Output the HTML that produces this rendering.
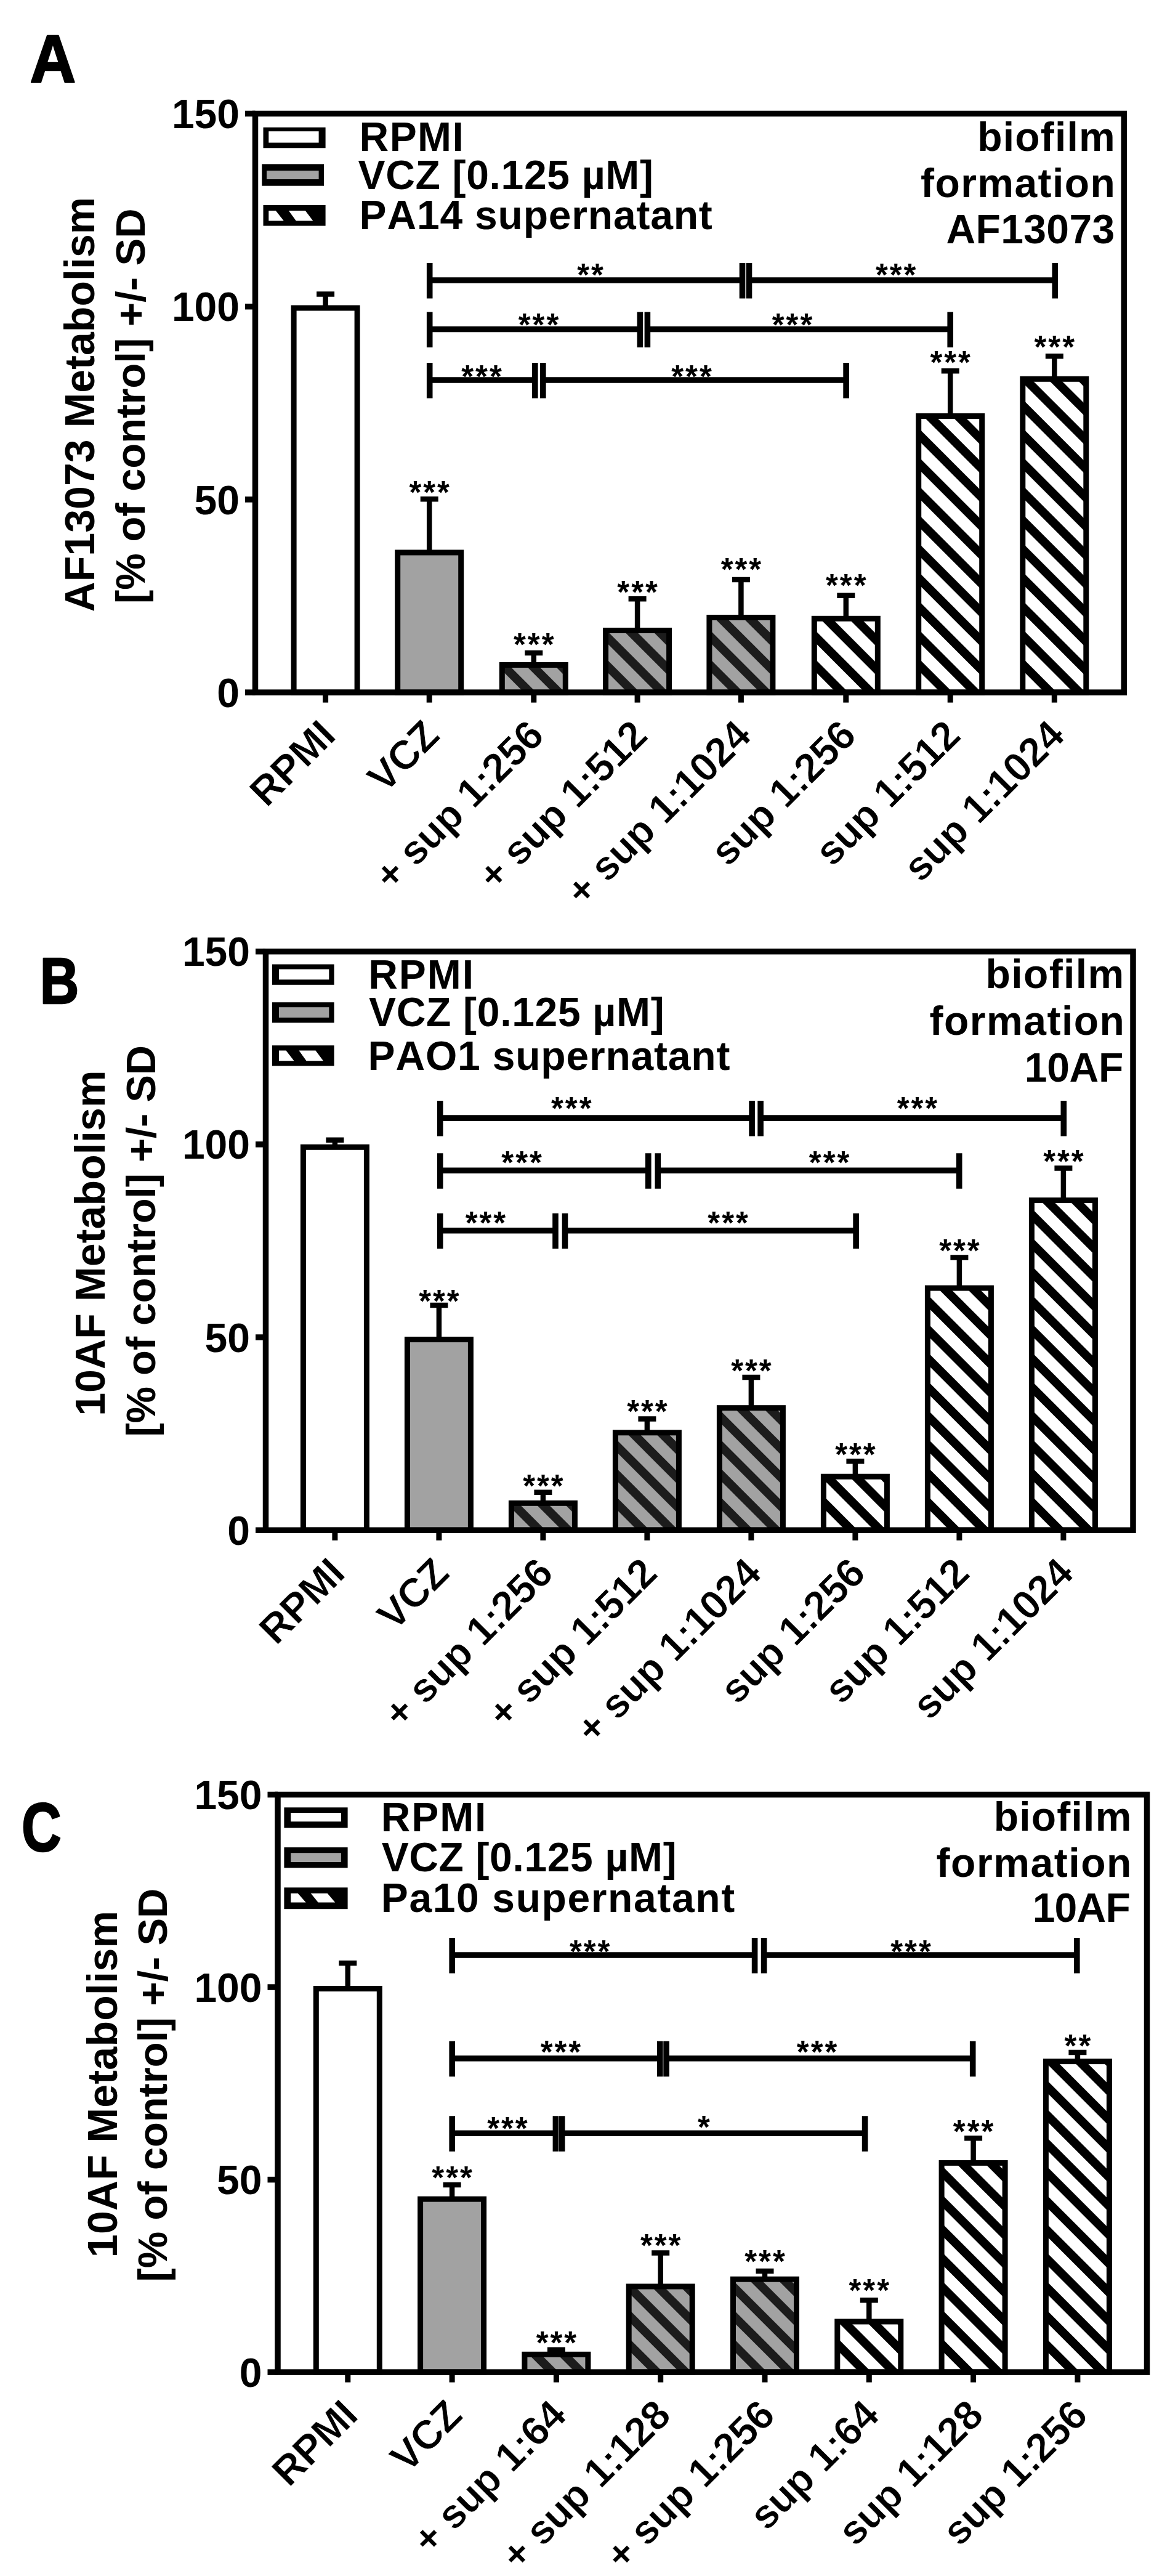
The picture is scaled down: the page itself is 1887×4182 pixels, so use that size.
<!DOCTYPE html>
<html><head><meta charset="utf-8"><title>Figure</title>
<style>html,body{margin:0;padding:0;background:#fff}svg{display:block}text{font-family:"Liberation Sans",sans-serif;font-weight:bold;fill:#000;font-kerning:none;font-variant-ligatures:none}.xl{stroke:#fff;stroke-width:0.8px}</style>
</head><body>
<svg width="1887" height="4182" viewBox="0 0 1887 4182">
<rect width="1887" height="4182" fill="#fff"/>
<g>
<path d="M528.6 500V475M514.1 477.4H543.1" stroke="#000" stroke-width="8.5" fill="none"/>
<rect x="477.1" y="500" width="103" height="624.1" fill="#fff"/>
<rect x="477.1" y="500" width="103" height="624.1" fill="none" stroke="#000" stroke-width="9"/>
<path d="M528.6 1124.1V1140.6" stroke="#000" stroke-width="9" fill="none"/>
<text x="548.1" y="1197.6" font-size="66" class="xl" text-anchor="end" transform="rotate(-45 548.1 1197.6)" letter-spacing="-0.6">RPMI</text>
<path d="M697.2 897V807.8M682.7 810.2H711.7" stroke="#000" stroke-width="8.5" fill="none"/>
<rect x="645.7" y="897" width="103" height="227.1" fill="#a2a2a2"/>
<rect x="645.7" y="897" width="103" height="227.1" fill="none" stroke="#000" stroke-width="9"/>
<path d="M697.2 1124.1V1140.6" stroke="#000" stroke-width="9" fill="none"/>
<text x="698.7" y="816.7" font-size="51" text-anchor="middle" letter-spacing="3">***</text>
<text x="716.7" y="1197.6" font-size="66" class="xl" text-anchor="end" transform="rotate(-45 716.7 1197.6)" letter-spacing="-0.6">VCZ</text>
<path d="M866.8 1079.5V1057.5M852.3 1059.9H881.3" stroke="#000" stroke-width="8.5" fill="none"/>
<rect x="815.3" y="1079.5" width="103" height="44.6" fill="#a2a2a2"/>
<clipPath id="c1"><rect x="818.8" y="1083" width="96" height="37.6"/></clipPath><g clip-path="url(#c1)" fill="#1c1c1c"><polygon points="758,1078 778,1078 825.6,1125.6 805.6,1125.6"/><polygon points="804.7,1078 824.7,1078 872.3,1125.6 852.3,1125.6"/><polygon points="851.4,1078 871.4,1078 919,1125.6 899,1125.6"/><polygon points="898.1,1078 918.1,1078 965.7,1125.6 945.7,1125.6"/></g>
<rect x="815.3" y="1079.5" width="103" height="44.6" fill="none" stroke="#000" stroke-width="9"/>
<path d="M866.8 1124.1V1140.6" stroke="#000" stroke-width="9" fill="none"/>
<text x="868.3" y="1063.7" font-size="51" text-anchor="middle" letter-spacing="3">***</text>
<text x="886.3" y="1197.6" font-size="66" class="xl" text-anchor="end" transform="rotate(-45 886.3 1197.6)" letter-spacing="-0.6">+ sup 1:256</text>
<path d="M1035.1 1023.5V969.8M1020.6 972.2H1049.6" stroke="#000" stroke-width="8.5" fill="none"/>
<rect x="983.6" y="1023.5" width="103" height="100.6" fill="#a2a2a2"/>
<clipPath id="c2"><rect x="987.1" y="1027" width="96" height="93.6"/></clipPath><g clip-path="url(#c2)" fill="#1c1c1c"><polygon points="870.3,1022 890.3,1022 993.9,1125.6 973.9,1125.6"/><polygon points="917,1022 937,1022 1040.6,1125.6 1020.6,1125.6"/><polygon points="963.7,1022 983.7,1022 1087.3,1125.6 1067.3,1125.6"/><polygon points="1010.4,1022 1030.4,1022 1134,1125.6 1114,1125.6"/><polygon points="1057.1,1022 1077.1,1022 1180.7,1125.6 1160.7,1125.6"/></g>
<rect x="983.6" y="1023.5" width="103" height="100.6" fill="none" stroke="#000" stroke-width="9"/>
<path d="M1035.1 1124.1V1140.6" stroke="#000" stroke-width="9" fill="none"/>
<text x="1036.6" y="979.4" font-size="51" text-anchor="middle" letter-spacing="3">***</text>
<text x="1054.6" y="1197.6" font-size="66" class="xl" text-anchor="end" transform="rotate(-45 1054.6 1197.6)" letter-spacing="-0.6">+ sup 1:512</text>
<path d="M1203.4 1002.5V938.6M1188.9 941H1217.9" stroke="#000" stroke-width="8.5" fill="none"/>
<rect x="1151.9" y="1002.5" width="103" height="121.6" fill="#a2a2a2"/>
<clipPath id="c3"><rect x="1155.4" y="1006" width="96" height="114.6"/></clipPath><g clip-path="url(#c3)" fill="#1c1c1c"><polygon points="1017.6,1001 1037.6,1001 1162.2,1125.6 1142.2,1125.6"/><polygon points="1064.3,1001 1084.3,1001 1208.9,1125.6 1188.9,1125.6"/><polygon points="1111,1001 1131,1001 1255.6,1125.6 1235.6,1125.6"/><polygon points="1157.7,1001 1177.7,1001 1302.3,1125.6 1282.3,1125.6"/><polygon points="1204.4,1001 1224.4,1001 1349,1125.6 1329,1125.6"/></g>
<rect x="1151.9" y="1002.5" width="103" height="121.6" fill="none" stroke="#000" stroke-width="9"/>
<path d="M1203.4 1124.1V1140.6" stroke="#000" stroke-width="9" fill="none"/>
<text x="1204.9" y="942.2" font-size="51" text-anchor="middle" letter-spacing="3">***</text>
<text x="1222.9" y="1197.6" font-size="66" class="xl" text-anchor="end" transform="rotate(-45 1222.9 1197.6)" letter-spacing="-0.6">+ sup 1:1024</text>
<path d="M1373.8 1004.3V964.3M1359.3 966.7H1388.3" stroke="#000" stroke-width="8.5" fill="none"/>
<rect x="1322.3" y="1004.3" width="103" height="119.8" fill="#fff"/>
<clipPath id="c4"><rect x="1325.8" y="1007.8" width="96" height="112.8"/></clipPath><g clip-path="url(#c4)" fill="#000"><polygon points="1189.8,1002.8 1209.8,1002.8 1332.6,1125.6 1312.6,1125.6"/><polygon points="1236.5,1002.8 1256.5,1002.8 1379.3,1125.6 1359.3,1125.6"/><polygon points="1283.2,1002.8 1303.2,1002.8 1426,1125.6 1406,1125.6"/><polygon points="1329.9,1002.8 1349.9,1002.8 1472.7,1125.6 1452.7,1125.6"/><polygon points="1376.6,1002.8 1396.6,1002.8 1519.4,1125.6 1499.4,1125.6"/></g>
<rect x="1322.3" y="1004.3" width="103" height="119.8" fill="none" stroke="#000" stroke-width="9"/>
<path d="M1373.8 1124.1V1140.6" stroke="#000" stroke-width="9" fill="none"/>
<text x="1375.3" y="967.9" font-size="51" text-anchor="middle" letter-spacing="3">***</text>
<text x="1393.3" y="1197.6" font-size="66" class="xl" text-anchor="end" transform="rotate(-45 1393.3 1197.6)" letter-spacing="-0.6">sup 1:256</text>
<path d="M1543.2 675.5V599.9M1528.7 602.3H1557.7" stroke="#000" stroke-width="8.5" fill="none"/>
<rect x="1491.7" y="675.5" width="103" height="448.6" fill="#fff"/>
<clipPath id="c5"><rect x="1495.2" y="679" width="96" height="441.6"/></clipPath><g clip-path="url(#c5)" fill="#000"><polygon points="1030.4,674 1050.4,674 1502,1125.6 1482,1125.6"/><polygon points="1077.1,674 1097.1,674 1548.7,1125.6 1528.7,1125.6"/><polygon points="1123.8,674 1143.8,674 1595.4,1125.6 1575.4,1125.6"/><polygon points="1170.5,674 1190.5,674 1642.1,1125.6 1622.1,1125.6"/><polygon points="1217.2,674 1237.2,674 1688.8,1125.6 1668.8,1125.6"/><polygon points="1263.9,674 1283.9,674 1735.5,1125.6 1715.5,1125.6"/><polygon points="1310.6,674 1330.6,674 1782.2,1125.6 1762.2,1125.6"/><polygon points="1357.3,674 1377.3,674 1828.9,1125.6 1808.9,1125.6"/><polygon points="1404,674 1424,674 1875.6,1125.6 1855.6,1125.6"/><polygon points="1450.7,674 1470.7,674 1922.3,1125.6 1902.3,1125.6"/><polygon points="1497.4,674 1517.4,674 1969,1125.6 1949,1125.6"/><polygon points="1544.1,674 1564.1,674 2015.7,1125.6 1995.7,1125.6"/></g>
<rect x="1491.7" y="675.5" width="103" height="448.6" fill="none" stroke="#000" stroke-width="9"/>
<path d="M1543.2 1124.1V1140.6" stroke="#000" stroke-width="9" fill="none"/>
<text x="1544.7" y="606.4" font-size="51" text-anchor="middle" letter-spacing="3">***</text>
<text x="1562.7" y="1197.6" font-size="66" class="xl" text-anchor="end" transform="rotate(-45 1562.7 1197.6)" letter-spacing="-0.6">sup 1:512</text>
<path d="M1712.3 615.3V575.8M1697.8 578.2H1726.8" stroke="#000" stroke-width="8.5" fill="none"/>
<rect x="1660.8" y="615.3" width="103" height="508.8" fill="#fff"/>
<clipPath id="c6"><rect x="1664.3" y="618.8" width="96" height="501.8"/></clipPath><g clip-path="url(#c6)" fill="#000"><polygon points="1139.3,613.8 1159.3,613.8 1671.1,1125.6 1651.1,1125.6"/><polygon points="1186,613.8 1206,613.8 1717.8,1125.6 1697.8,1125.6"/><polygon points="1232.7,613.8 1252.7,613.8 1764.5,1125.6 1744.5,1125.6"/><polygon points="1279.4,613.8 1299.4,613.8 1811.2,1125.6 1791.2,1125.6"/><polygon points="1326.1,613.8 1346.1,613.8 1857.9,1125.6 1837.9,1125.6"/><polygon points="1372.8,613.8 1392.8,613.8 1904.6,1125.6 1884.6,1125.6"/><polygon points="1419.5,613.8 1439.5,613.8 1951.3,1125.6 1931.3,1125.6"/><polygon points="1466.2,613.8 1486.2,613.8 1998,1125.6 1978,1125.6"/><polygon points="1512.9,613.8 1532.9,613.8 2044.7,1125.6 2024.7,1125.6"/><polygon points="1559.6,613.8 1579.6,613.8 2091.4,1125.6 2071.4,1125.6"/><polygon points="1606.3,613.8 1626.3,613.8 2138.1,1125.6 2118.1,1125.6"/><polygon points="1653,613.8 1673,613.8 2184.8,1125.6 2164.8,1125.6"/><polygon points="1699.7,613.8 1719.7,613.8 2231.5,1125.6 2211.5,1125.6"/><polygon points="1746.4,613.8 1766.4,613.8 2278.2,1125.6 2258.2,1125.6"/></g>
<rect x="1660.8" y="615.3" width="103" height="508.8" fill="none" stroke="#000" stroke-width="9"/>
<path d="M1712.3 1124.1V1140.6" stroke="#000" stroke-width="9" fill="none"/>
<text x="1713.8" y="580.5" font-size="51" text-anchor="middle" letter-spacing="3">***</text>
<text x="1731.8" y="1197.6" font-size="66" class="xl" text-anchor="end" transform="rotate(-45 1731.8 1197.6)" letter-spacing="-0.6">sup 1:1024</text>
<rect x="414.5" y="184.5" width="1410.8" height="939.6" fill="none" stroke="#000" stroke-width="9.5"/>
<path d="M398 184.5H414.5" stroke="#000" stroke-width="9.5" fill="none"/>
<text x="389" y="208.1" font-size="66" text-anchor="end">150</text>
<path d="M398 497.7H414.5" stroke="#000" stroke-width="9.5" fill="none"/>
<text x="389" y="521.3" font-size="66" text-anchor="end">100</text>
<path d="M398 810.9H414.5" stroke="#000" stroke-width="9.5" fill="none"/>
<text x="389" y="834.5" font-size="66" text-anchor="end">50</text>
<path d="M398 1124.1H414.5" stroke="#000" stroke-width="9.5" fill="none"/>
<text x="389" y="1147.7" font-size="66" text-anchor="end">0</text>
<rect x="427.5" y="206.8" width="101.1" height="33.5" fill="#000"/>
<rect x="436.3" y="213.2" width="81.3" height="18.4" fill="#fff"/>
<rect x="425.3" y="266.4" width="100.7" height="35.3" fill="#000"/>
<rect x="433" y="277" width="84.6" height="14" fill="#a2a2a2"/>
<rect x="427.5" y="333" width="101.1" height="33.6" fill="#000"/>
<path d="M436.3 342h11.5l13 16.5h-24.5zM468.8 342h27l12.5 16.5h-27.5z" fill="#fff"/>
<text x="583.51" y="245.1" font-size="66" letter-spacing="1.47">RPMI</text>
<text x="581.57" y="306.5" font-size="66" letter-spacing="0.66">VCZ [0.125 µM]</text>
<text x="583.61" y="372.4" font-size="66" letter-spacing="0.8">PA14 supernatant</text>
<text x="1587.18" y="245" font-size="66" letter-spacing="1.22">biofilm</text>
<text x="1494.98" y="320" font-size="66" letter-spacing="1.45">formation</text>
<text x="1536.58" y="394.7" font-size="66" letter-spacing="0.35">AF13073</text>
<path d="M697.7 455H1205.5M697.7 427V484.5M1205.5 427V484.5" stroke="#000" stroke-width="9.6" fill="none"/>
<text x="960" y="464.1" font-size="51" text-anchor="middle" letter-spacing="3">**</text>
<path d="M1216.5 455H1713.3M1216.5 427V484.5M1713.3 427V484.5" stroke="#000" stroke-width="9.6" fill="none"/>
<text x="1456.2" y="463.7" font-size="51" text-anchor="middle" letter-spacing="3">***</text>
<path d="M697.7 534.5H1039.4M697.7 506.5V564M1039.4 506.5V564" stroke="#000" stroke-width="9.6" fill="none"/>
<text x="876" y="545.2" font-size="51" text-anchor="middle" letter-spacing="3">***</text>
<path d="M1051.4 534.5H1543.2M1051.4 506.5V564M1543.2 506.5V564" stroke="#000" stroke-width="9.6" fill="none"/>
<text x="1288" y="545.2" font-size="51" text-anchor="middle" letter-spacing="3">***</text>
<path d="M697.7 617H868.8M697.7 589V646.5M868.8 589V646.5" stroke="#000" stroke-width="9.6" fill="none"/>
<text x="783.5" y="629.3" font-size="51" text-anchor="middle" letter-spacing="3">***</text>
<path d="M881.8 617H1374.1M881.8 589V646.5M1374.1 589V646.5" stroke="#000" stroke-width="9.6" fill="none"/>
<text x="1124.5" y="629.3" font-size="51" text-anchor="middle" letter-spacing="3">***</text>
<text x="153.5" y="993.47" font-size="68" transform="rotate(-90 153.5 993.47)" letter-spacing="0.06">AF13073 Metabolism</text>
<text x="235" y="980.05" font-size="67" transform="rotate(-90 235 980.05)" letter-spacing="-0.02">[% of control] +/- SD</text>
<text x="0" y="0" font-size="109" stroke="#000" stroke-width="2.5" stroke-linejoin="round" transform="translate(48.5 133.4) scale(0.95 1)">A</text>
</g>
<g>
<path d="M543.9 1862.3V1848.4M529.4 1850.8H558.4" stroke="#000" stroke-width="8.5" fill="none"/>
<rect x="492.4" y="1862.3" width="103" height="621.9" fill="#fff"/>
<rect x="492.4" y="1862.3" width="103" height="621.9" fill="none" stroke="#000" stroke-width="9"/>
<path d="M543.9 2484.2V2500.7" stroke="#000" stroke-width="9" fill="none"/>
<text x="563.4" y="2557.7" font-size="66" class="xl" text-anchor="end" transform="rotate(-45 563.4 2557.7)" letter-spacing="-0.6">RPMI</text>
<path d="M712.9 2174.6V2116.7M698.4 2119.1H727.4" stroke="#000" stroke-width="8.5" fill="none"/>
<rect x="661.4" y="2174.6" width="103" height="309.6" fill="#a2a2a2"/>
<rect x="661.4" y="2174.6" width="103" height="309.6" fill="none" stroke="#000" stroke-width="9"/>
<path d="M712.9 2484.2V2500.7" stroke="#000" stroke-width="9" fill="none"/>
<text x="714.4" y="2129.7" font-size="51" text-anchor="middle" letter-spacing="3">***</text>
<text x="732.4" y="2557.7" font-size="66" class="xl" text-anchor="end" transform="rotate(-45 732.4 2557.7)" letter-spacing="-0.6">VCZ</text>
<path d="M881.9 2440.3V2420.3M867.4 2422.7H896.4" stroke="#000" stroke-width="8.5" fill="none"/>
<rect x="830.4" y="2440.3" width="103" height="43.9" fill="#a2a2a2"/>
<clipPath id="c7"><rect x="833.9" y="2443.8" width="96" height="36.9"/></clipPath><g clip-path="url(#c7)" fill="#1c1c1c"><polygon points="773.8,2438.8 793.8,2438.8 840.7,2485.7 820.7,2485.7"/><polygon points="820.5,2438.8 840.5,2438.8 887.4,2485.7 867.4,2485.7"/><polygon points="867.2,2438.8 887.2,2438.8 934.1,2485.7 914.1,2485.7"/><polygon points="913.9,2438.8 933.9,2438.8 980.8,2485.7 960.8,2485.7"/></g>
<rect x="830.4" y="2440.3" width="103" height="43.9" fill="none" stroke="#000" stroke-width="9"/>
<path d="M881.9 2484.2V2500.7" stroke="#000" stroke-width="9" fill="none"/>
<text x="883.4" y="2429.7" font-size="51" text-anchor="middle" letter-spacing="3">***</text>
<text x="901.4" y="2557.7" font-size="66" class="xl" text-anchor="end" transform="rotate(-45 901.4 2557.7)" letter-spacing="-0.6">+ sup 1:256</text>
<path d="M1050.9 2325.8V2301M1036.4 2303.4H1065.4" stroke="#000" stroke-width="8.5" fill="none"/>
<rect x="999.4" y="2325.8" width="103" height="158.4" fill="#a2a2a2"/>
<clipPath id="c8"><rect x="1002.9" y="2329.3" width="96" height="151.4"/></clipPath><g clip-path="url(#c8)" fill="#1c1c1c"><polygon points="828.3,2324.3 848.3,2324.3 1009.7,2485.7 989.7,2485.7"/><polygon points="875,2324.3 895,2324.3 1056.4,2485.7 1036.4,2485.7"/><polygon points="921.7,2324.3 941.7,2324.3 1103.1,2485.7 1083.1,2485.7"/><polygon points="968.4,2324.3 988.4,2324.3 1149.8,2485.7 1129.8,2485.7"/><polygon points="1015.1,2324.3 1035.1,2324.3 1196.5,2485.7 1176.5,2485.7"/><polygon points="1061.8,2324.3 1081.8,2324.3 1243.2,2485.7 1223.2,2485.7"/></g>
<rect x="999.4" y="2325.8" width="103" height="158.4" fill="none" stroke="#000" stroke-width="9"/>
<path d="M1050.9 2484.2V2500.7" stroke="#000" stroke-width="9" fill="none"/>
<text x="1052.4" y="2309.4" font-size="51" text-anchor="middle" letter-spacing="3">***</text>
<text x="1070.4" y="2557.7" font-size="66" class="xl" text-anchor="end" transform="rotate(-45 1070.4 2557.7)" letter-spacing="-0.6">+ sup 1:512</text>
<path d="M1219.9 2285.7V2233.6M1205.4 2236H1234.4" stroke="#000" stroke-width="8.5" fill="none"/>
<rect x="1168.4" y="2285.7" width="103" height="198.5" fill="#a2a2a2"/>
<clipPath id="c9"><rect x="1171.9" y="2289.2" width="96" height="191.5"/></clipPath><g clip-path="url(#c9)" fill="#1c1c1c"><polygon points="957.2,2284.2 977.2,2284.2 1178.7,2485.7 1158.7,2485.7"/><polygon points="1003.9,2284.2 1023.9,2284.2 1225.4,2485.7 1205.4,2485.7"/><polygon points="1050.6,2284.2 1070.6,2284.2 1272.1,2485.7 1252.1,2485.7"/><polygon points="1097.3,2284.2 1117.3,2284.2 1318.8,2485.7 1298.8,2485.7"/><polygon points="1144,2284.2 1164,2284.2 1365.5,2485.7 1345.5,2485.7"/><polygon points="1190.7,2284.2 1210.7,2284.2 1412.2,2485.7 1392.2,2485.7"/><polygon points="1237.4,2284.2 1257.4,2284.2 1458.9,2485.7 1438.9,2485.7"/></g>
<rect x="1168.4" y="2285.7" width="103" height="198.5" fill="none" stroke="#000" stroke-width="9"/>
<path d="M1219.9 2484.2V2500.7" stroke="#000" stroke-width="9" fill="none"/>
<text x="1221.4" y="2242.5" font-size="51" text-anchor="middle" letter-spacing="3">***</text>
<text x="1239.4" y="2557.7" font-size="66" class="xl" text-anchor="end" transform="rotate(-45 1239.4 2557.7)" letter-spacing="-0.6">+ sup 1:1024</text>
<path d="M1388.9 2397.2V2369.9M1374.4 2372.3H1403.4" stroke="#000" stroke-width="8.5" fill="none"/>
<rect x="1337.4" y="2397.2" width="103" height="87" fill="#fff"/>
<clipPath id="c10"><rect x="1340.9" y="2400.7" width="96" height="80"/></clipPath><g clip-path="url(#c10)" fill="#000"><polygon points="1237.7,2395.7 1257.7,2395.7 1347.7,2485.7 1327.7,2485.7"/><polygon points="1284.4,2395.7 1304.4,2395.7 1394.4,2485.7 1374.4,2485.7"/><polygon points="1331.1,2395.7 1351.1,2395.7 1441.1,2485.7 1421.1,2485.7"/><polygon points="1377.8,2395.7 1397.8,2395.7 1487.8,2485.7 1467.8,2485.7"/><polygon points="1424.5,2395.7 1444.5,2395.7 1534.5,2485.7 1514.5,2485.7"/></g>
<rect x="1337.4" y="2397.2" width="103" height="87" fill="none" stroke="#000" stroke-width="9"/>
<path d="M1388.9 2484.2V2500.7" stroke="#000" stroke-width="9" fill="none"/>
<text x="1390.4" y="2378.8" font-size="51" text-anchor="middle" letter-spacing="3">***</text>
<text x="1408.4" y="2557.7" font-size="66" class="xl" text-anchor="end" transform="rotate(-45 1408.4 2557.7)" letter-spacing="-0.6">sup 1:256</text>
<path d="M1557.9 2091.1V2039M1543.4 2041.4H1572.4" stroke="#000" stroke-width="8.5" fill="none"/>
<rect x="1506.4" y="2091.1" width="103" height="393.1" fill="#fff"/>
<clipPath id="c11"><rect x="1509.9" y="2094.6" width="96" height="386.1"/></clipPath><g clip-path="url(#c11)" fill="#000"><polygon points="1100.6,2089.6 1120.6,2089.6 1516.7,2485.7 1496.7,2485.7"/><polygon points="1147.3,2089.6 1167.3,2089.6 1563.4,2485.7 1543.4,2485.7"/><polygon points="1194,2089.6 1214,2089.6 1610.1,2485.7 1590.1,2485.7"/><polygon points="1240.7,2089.6 1260.7,2089.6 1656.8,2485.7 1636.8,2485.7"/><polygon points="1287.4,2089.6 1307.4,2089.6 1703.5,2485.7 1683.5,2485.7"/><polygon points="1334.1,2089.6 1354.1,2089.6 1750.2,2485.7 1730.2,2485.7"/><polygon points="1380.8,2089.6 1400.8,2089.6 1796.9,2485.7 1776.9,2485.7"/><polygon points="1427.5,2089.6 1447.5,2089.6 1843.6,2485.7 1823.6,2485.7"/><polygon points="1474.2,2089.6 1494.2,2089.6 1890.3,2485.7 1870.3,2485.7"/><polygon points="1520.9,2089.6 1540.9,2089.6 1937,2485.7 1917,2485.7"/><polygon points="1567.6,2089.6 1587.6,2089.6 1983.7,2485.7 1963.7,2485.7"/></g>
<rect x="1506.4" y="2091.1" width="103" height="393.1" fill="none" stroke="#000" stroke-width="9"/>
<path d="M1557.9 2484.2V2500.7" stroke="#000" stroke-width="9" fill="none"/>
<text x="1559.4" y="2047.7" font-size="51" text-anchor="middle" letter-spacing="3">***</text>
<text x="1577.4" y="2557.7" font-size="66" class="xl" text-anchor="end" transform="rotate(-45 1577.4 2557.7)" letter-spacing="-0.6">sup 1:512</text>
<path d="M1726.9 1948.6V1894.2M1712.4 1896.6H1741.4" stroke="#000" stroke-width="8.5" fill="none"/>
<rect x="1675.4" y="1948.6" width="103" height="535.6" fill="#fff"/>
<clipPath id="c12"><rect x="1678.9" y="1952.1" width="96" height="528.6"/></clipPath><g clip-path="url(#c12)" fill="#000"><polygon points="1127.1,1947.1 1147.1,1947.1 1685.7,2485.7 1665.7,2485.7"/><polygon points="1173.8,1947.1 1193.8,1947.1 1732.4,2485.7 1712.4,2485.7"/><polygon points="1220.5,1947.1 1240.5,1947.1 1779.1,2485.7 1759.1,2485.7"/><polygon points="1267.2,1947.1 1287.2,1947.1 1825.8,2485.7 1805.8,2485.7"/><polygon points="1313.9,1947.1 1333.9,1947.1 1872.5,2485.7 1852.5,2485.7"/><polygon points="1360.6,1947.1 1380.6,1947.1 1919.2,2485.7 1899.2,2485.7"/><polygon points="1407.3,1947.1 1427.3,1947.1 1965.9,2485.7 1945.9,2485.7"/><polygon points="1454,1947.1 1474,1947.1 2012.6,2485.7 1992.6,2485.7"/><polygon points="1500.7,1947.1 1520.7,1947.1 2059.3,2485.7 2039.3,2485.7"/><polygon points="1547.4,1947.1 1567.4,1947.1 2106,2485.7 2086,2485.7"/><polygon points="1594.1,1947.1 1614.1,1947.1 2152.7,2485.7 2132.7,2485.7"/><polygon points="1640.8,1947.1 1660.8,1947.1 2199.4,2485.7 2179.4,2485.7"/><polygon points="1687.5,1947.1 1707.5,1947.1 2246.1,2485.7 2226.1,2485.7"/><polygon points="1734.2,1947.1 1754.2,1947.1 2292.8,2485.7 2272.8,2485.7"/></g>
<rect x="1675.4" y="1948.6" width="103" height="535.6" fill="none" stroke="#000" stroke-width="9"/>
<path d="M1726.9 2484.2V2500.7" stroke="#000" stroke-width="9" fill="none"/>
<text x="1728.4" y="1902.9" font-size="51" text-anchor="middle" letter-spacing="3">***</text>
<text x="1746.4" y="2557.7" font-size="66" class="xl" text-anchor="end" transform="rotate(-45 1746.4 2557.7)" letter-spacing="-0.6">sup 1:1024</text>
<rect x="431.5" y="1544.7" width="1408.5" height="939.5" fill="none" stroke="#000" stroke-width="9.5"/>
<path d="M415 1544.7H431.5" stroke="#000" stroke-width="9.5" fill="none"/>
<text x="406" y="1568.3" font-size="66" text-anchor="end">150</text>
<path d="M415 1857.87H431.5" stroke="#000" stroke-width="9.5" fill="none"/>
<text x="406" y="1881.47" font-size="66" text-anchor="end">100</text>
<path d="M415 2171.03H431.5" stroke="#000" stroke-width="9.5" fill="none"/>
<text x="406" y="2194.63" font-size="66" text-anchor="end">50</text>
<path d="M415 2484.2H431.5" stroke="#000" stroke-width="9.5" fill="none"/>
<text x="406" y="2507.8" font-size="66" text-anchor="end">0</text>
<rect x="441.9" y="1565.5" width="100.7" height="33.3" fill="#000"/>
<rect x="453" y="1573.5" width="81.3" height="16.8" fill="#fff"/>
<rect x="441.9" y="1627.2" width="100.7" height="33.2" fill="#000"/>
<rect x="453" y="1635.2" width="81.3" height="16.8" fill="#a2a2a2"/>
<rect x="441.9" y="1697.2" width="100.7" height="33.3" fill="#000"/>
<path d="M453 1705.5h11.5l13 16.8h-24.5zM485.5 1705.5h27l12.5 16.8h-27.5z" fill="#fff"/>
<text x="598.31" y="1604.5" font-size="66" letter-spacing="1.9">RPMI</text>
<text x="598.97" y="1666" font-size="66" letter-spacing="0.69">VCZ [0.125 µM]</text>
<text x="597.61" y="1736.7" font-size="66" letter-spacing="0.8">PAO1 supernatant</text>
<text x="1600.58" y="1604" font-size="66" letter-spacing="1.37">biofilm</text>
<text x="1509.48" y="1679.7" font-size="66" letter-spacing="1.51">formation</text>
<text x="1663.78" y="1755.5" font-size="66" letter-spacing="-0.31">10AF</text>
<path d="M714.7 1815.1H1221.1M714.7 1787.1V1844.6M1221.1 1787.1V1844.6" stroke="#000" stroke-width="9.6" fill="none"/>
<text x="929.3" y="1817" font-size="51" text-anchor="middle" letter-spacing="3">***</text>
<path d="M1235.1 1815.1H1727.3M1235.1 1787.1V1844.6M1727.3 1787.1V1844.6" stroke="#000" stroke-width="9.6" fill="none"/>
<text x="1490.9" y="1817" font-size="51" text-anchor="middle" letter-spacing="3">***</text>
<path d="M714.7 1900.2H1052.8M714.7 1872.2V1929.7M1052.8 1872.2V1929.7" stroke="#000" stroke-width="9.6" fill="none"/>
<text x="848.6" y="1904.7" font-size="51" text-anchor="middle" letter-spacing="3">***</text>
<path d="M1068.3 1900.2H1557.7M1068.3 1872.2V1929.7M1557.7 1872.2V1929.7" stroke="#000" stroke-width="9.6" fill="none"/>
<text x="1348.1" y="1904.7" font-size="51" text-anchor="middle" letter-spacing="3">***</text>
<path d="M714.7 1997.7H902M714.7 1969.7V2027.2M902 1969.7V2027.2" stroke="#000" stroke-width="9.6" fill="none"/>
<text x="789.9" y="2002.9" font-size="51" text-anchor="middle" letter-spacing="3">***</text>
<path d="M917.5 1997.7H1390.1M917.5 1969.7V2027.2M1390.1 1969.7V2027.2" stroke="#000" stroke-width="9.6" fill="none"/>
<text x="1183.6" y="2002.9" font-size="51" text-anchor="middle" letter-spacing="3">***</text>
<text x="170.5" y="2298.85" font-size="68" transform="rotate(-90 170.5 2298.85)" letter-spacing="0.14">10AF Metabolism</text>
<text x="252" y="2332.45" font-size="67" transform="rotate(-90 252 2332.45)" letter-spacing="-0.33">[% of control] +/- SD</text>
<text x="0" y="0" font-size="106" stroke="#000" stroke-width="2.5" stroke-linejoin="round" transform="translate(64.8 1629) scale(0.83 1)">B</text>
</g>
<g>
<path d="M564.8 3228.5V3184.5M550.3 3186.9H579.3" stroke="#000" stroke-width="8.5" fill="none"/>
<rect x="513.3" y="3228.5" width="103" height="622.6" fill="#fff"/>
<rect x="513.3" y="3228.5" width="103" height="622.6" fill="none" stroke="#000" stroke-width="9"/>
<path d="M564.8 3851.1V3867.6" stroke="#000" stroke-width="9" fill="none"/>
<text x="584.3" y="3924.6" font-size="66" class="xl" text-anchor="end" transform="rotate(-45 584.3 3924.6)" letter-spacing="-0.6">RPMI</text>
<path d="M734.1 3570.1V3544.7M719.6 3547.1H748.6" stroke="#000" stroke-width="8.5" fill="none"/>
<rect x="682.6" y="3570.1" width="103" height="281" fill="#a2a2a2"/>
<rect x="682.6" y="3570.1" width="103" height="281" fill="none" stroke="#000" stroke-width="9"/>
<path d="M734.1 3851.1V3867.6" stroke="#000" stroke-width="9" fill="none"/>
<text x="735.6" y="3553" font-size="51" text-anchor="middle" letter-spacing="3">***</text>
<text x="753.6" y="3924.6" font-size="66" class="xl" text-anchor="end" transform="rotate(-45 753.6 3924.6)" letter-spacing="-0.6">VCZ</text>
<path d="M903.4 3822.3V3812.3M888.9 3814.7H917.9" stroke="#000" stroke-width="8.5" fill="none"/>
<rect x="851.9" y="3822.3" width="103" height="28.8" fill="#a2a2a2"/>
<clipPath id="c13"><rect x="855.4" y="3825.8" width="96" height="21.8"/></clipPath><g clip-path="url(#c13)" fill="#1c1c1c"><polygon points="810.4,3820.8 830.4,3820.8 862.2,3852.6 842.2,3852.6"/><polygon points="857.1,3820.8 877.1,3820.8 908.9,3852.6 888.9,3852.6"/><polygon points="903.8,3820.8 923.8,3820.8 955.6,3852.6 935.6,3852.6"/></g>
<rect x="851.9" y="3822.3" width="103" height="28.8" fill="none" stroke="#000" stroke-width="9"/>
<path d="M903.4 3851.1V3867.6" stroke="#000" stroke-width="9" fill="none"/>
<text x="904.9" y="3821.2" font-size="51" text-anchor="middle" letter-spacing="3">***</text>
<text x="922.9" y="3924.6" font-size="66" class="xl" text-anchor="end" transform="rotate(-45 922.9 3924.6)" letter-spacing="-0.6">+ sup 1:64</text>
<path d="M1072.7 3712V3655M1058.2 3657.4H1087.2" stroke="#000" stroke-width="8.5" fill="none"/>
<rect x="1021.2" y="3712" width="103" height="139.1" fill="#a2a2a2"/>
<clipPath id="c14"><rect x="1024.7" y="3715.5" width="96" height="132.1"/></clipPath><g clip-path="url(#c14)" fill="#1c1c1c"><polygon points="869.4,3710.5 889.4,3710.5 1031.5,3852.6 1011.5,3852.6"/><polygon points="916.1,3710.5 936.1,3710.5 1078.2,3852.6 1058.2,3852.6"/><polygon points="962.8,3710.5 982.8,3710.5 1124.9,3852.6 1104.9,3852.6"/><polygon points="1009.5,3710.5 1029.5,3710.5 1171.6,3852.6 1151.6,3852.6"/><polygon points="1056.2,3710.5 1076.2,3710.5 1218.3,3852.6 1198.3,3852.6"/><polygon points="1102.9,3710.5 1122.9,3710.5 1265,3852.6 1245,3852.6"/></g>
<rect x="1021.2" y="3712" width="103" height="139.1" fill="none" stroke="#000" stroke-width="9"/>
<path d="M1072.7 3851.1V3867.6" stroke="#000" stroke-width="9" fill="none"/>
<text x="1074.2" y="3662.5" font-size="51" text-anchor="middle" letter-spacing="3">***</text>
<text x="1092.2" y="3924.6" font-size="66" class="xl" text-anchor="end" transform="rotate(-45 1092.2 3924.6)" letter-spacing="-0.6">+ sup 1:128</text>
<path d="M1242 3700.2V3684.7M1227.5 3687.1H1256.5" stroke="#000" stroke-width="8.5" fill="none"/>
<rect x="1190.5" y="3700.2" width="103" height="150.9" fill="#a2a2a2"/>
<clipPath id="c15"><rect x="1194" y="3703.7" width="96" height="143.9"/></clipPath><g clip-path="url(#c15)" fill="#1c1c1c"><polygon points="1026.9,3698.7 1046.9,3698.7 1200.8,3852.6 1180.8,3852.6"/><polygon points="1073.6,3698.7 1093.6,3698.7 1247.5,3852.6 1227.5,3852.6"/><polygon points="1120.3,3698.7 1140.3,3698.7 1294.2,3852.6 1274.2,3852.6"/><polygon points="1167,3698.7 1187,3698.7 1340.9,3852.6 1320.9,3852.6"/><polygon points="1213.7,3698.7 1233.7,3698.7 1387.6,3852.6 1367.6,3852.6"/><polygon points="1260.4,3698.7 1280.4,3698.7 1434.3,3852.6 1414.3,3852.6"/></g>
<rect x="1190.5" y="3700.2" width="103" height="150.9" fill="none" stroke="#000" stroke-width="9"/>
<path d="M1242 3851.1V3867.6" stroke="#000" stroke-width="9" fill="none"/>
<text x="1243.5" y="3689.3" font-size="51" text-anchor="middle" letter-spacing="3">***</text>
<text x="1261.5" y="3924.6" font-size="66" class="xl" text-anchor="end" transform="rotate(-45 1261.5 3924.6)" letter-spacing="-0.6">+ sup 1:256</text>
<path d="M1411.3 3769V3731.8M1396.8 3734.2H1425.8" stroke="#000" stroke-width="8.5" fill="none"/>
<rect x="1359.8" y="3769" width="103" height="82.1" fill="#fff"/>
<clipPath id="c16"><rect x="1363.3" y="3772.5" width="96" height="75.1"/></clipPath><g clip-path="url(#c16)" fill="#000"><polygon points="1265,3767.5 1285,3767.5 1370.1,3852.6 1350.1,3852.6"/><polygon points="1311.7,3767.5 1331.7,3767.5 1416.8,3852.6 1396.8,3852.6"/><polygon points="1358.4,3767.5 1378.4,3767.5 1463.5,3852.6 1443.5,3852.6"/><polygon points="1405.1,3767.5 1425.1,3767.5 1510.2,3852.6 1490.2,3852.6"/><polygon points="1451.8,3767.5 1471.8,3767.5 1556.9,3852.6 1536.9,3852.6"/></g>
<rect x="1359.8" y="3769" width="103" height="82.1" fill="none" stroke="#000" stroke-width="9"/>
<path d="M1411.3 3851.1V3867.6" stroke="#000" stroke-width="9" fill="none"/>
<text x="1412.8" y="3735.7" font-size="51" text-anchor="middle" letter-spacing="3">***</text>
<text x="1430.8" y="3924.6" font-size="66" class="xl" text-anchor="end" transform="rotate(-45 1430.8 3924.6)" letter-spacing="-0.6">sup 1:64</text>
<path d="M1580.6 3511.4V3468.8M1566.1 3471.2H1595.1" stroke="#000" stroke-width="8.5" fill="none"/>
<rect x="1529.1" y="3511.4" width="103" height="339.7" fill="#fff"/>
<clipPath id="c17"><rect x="1532.6" y="3514.9" width="96" height="332.7"/></clipPath><g clip-path="url(#c17)" fill="#000"><polygon points="1176.7,3509.9 1196.7,3509.9 1539.4,3852.6 1519.4,3852.6"/><polygon points="1223.4,3509.9 1243.4,3509.9 1586.1,3852.6 1566.1,3852.6"/><polygon points="1270.1,3509.9 1290.1,3509.9 1632.8,3852.6 1612.8,3852.6"/><polygon points="1316.8,3509.9 1336.8,3509.9 1679.5,3852.6 1659.5,3852.6"/><polygon points="1363.5,3509.9 1383.5,3509.9 1726.2,3852.6 1706.2,3852.6"/><polygon points="1410.2,3509.9 1430.2,3509.9 1772.9,3852.6 1752.9,3852.6"/><polygon points="1456.9,3509.9 1476.9,3509.9 1819.6,3852.6 1799.6,3852.6"/><polygon points="1503.6,3509.9 1523.6,3509.9 1866.3,3852.6 1846.3,3852.6"/><polygon points="1550.3,3509.9 1570.3,3509.9 1913,3852.6 1893,3852.6"/><polygon points="1597,3509.9 1617,3509.9 1959.7,3852.6 1939.7,3852.6"/></g>
<rect x="1529.1" y="3511.4" width="103" height="339.7" fill="none" stroke="#000" stroke-width="9"/>
<path d="M1580.6 3851.1V3867.6" stroke="#000" stroke-width="9" fill="none"/>
<text x="1582.1" y="3478.2" font-size="51" text-anchor="middle" letter-spacing="3">***</text>
<text x="1600.1" y="3924.6" font-size="66" class="xl" text-anchor="end" transform="rotate(-45 1600.1 3924.6)" letter-spacing="-0.6">sup 1:128</text>
<path d="M1749.9 3346.6V3329.5M1735.4 3331.9H1764.4" stroke="#000" stroke-width="8.5" fill="none"/>
<rect x="1698.4" y="3346.6" width="103" height="504.5" fill="#fff"/>
<clipPath id="c18"><rect x="1701.9" y="3350.1" width="96" height="497.5"/></clipPath><g clip-path="url(#c18)" fill="#000"><polygon points="1181.2,3345.1 1201.2,3345.1 1708.7,3852.6 1688.7,3852.6"/><polygon points="1227.9,3345.1 1247.9,3345.1 1755.4,3852.6 1735.4,3852.6"/><polygon points="1274.6,3345.1 1294.6,3345.1 1802.1,3852.6 1782.1,3852.6"/><polygon points="1321.3,3345.1 1341.3,3345.1 1848.8,3852.6 1828.8,3852.6"/><polygon points="1368,3345.1 1388,3345.1 1895.5,3852.6 1875.5,3852.6"/><polygon points="1414.7,3345.1 1434.7,3345.1 1942.2,3852.6 1922.2,3852.6"/><polygon points="1461.4,3345.1 1481.4,3345.1 1988.9,3852.6 1968.9,3852.6"/><polygon points="1508.1,3345.1 1528.1,3345.1 2035.6,3852.6 2015.6,3852.6"/><polygon points="1554.8,3345.1 1574.8,3345.1 2082.3,3852.6 2062.3,3852.6"/><polygon points="1601.5,3345.1 1621.5,3345.1 2129,3852.6 2109,3852.6"/><polygon points="1648.2,3345.1 1668.2,3345.1 2175.7,3852.6 2155.7,3852.6"/><polygon points="1694.9,3345.1 1714.9,3345.1 2222.4,3852.6 2202.4,3852.6"/><polygon points="1741.6,3345.1 1761.6,3345.1 2269.1,3852.6 2249.1,3852.6"/><polygon points="1788.3,3345.1 1808.3,3345.1 2315.8,3852.6 2295.8,3852.6"/></g>
<rect x="1698.4" y="3346.6" width="103" height="504.5" fill="none" stroke="#000" stroke-width="9"/>
<path d="M1749.9 3851.1V3867.6" stroke="#000" stroke-width="9" fill="none"/>
<text x="1751.4" y="3339" font-size="51" text-anchor="middle" letter-spacing="3">**</text>
<text x="1769.4" y="3924.6" font-size="66" class="xl" text-anchor="end" transform="rotate(-45 1769.4 3924.6)" letter-spacing="-0.6">sup 1:256</text>
<rect x="451" y="2913.5" width="1411.5" height="937.6" fill="none" stroke="#000" stroke-width="9.5"/>
<path d="M434.5 2913.5H451" stroke="#000" stroke-width="9.5" fill="none"/>
<text x="425.5" y="2937.1" font-size="66" text-anchor="end">150</text>
<path d="M434.5 3226.03H451" stroke="#000" stroke-width="9.5" fill="none"/>
<text x="425.5" y="3249.63" font-size="66" text-anchor="end">100</text>
<path d="M434.5 3538.57H451" stroke="#000" stroke-width="9.5" fill="none"/>
<text x="425.5" y="3562.17" font-size="66" text-anchor="end">50</text>
<path d="M434.5 3851.1H451" stroke="#000" stroke-width="9.5" fill="none"/>
<text x="425.5" y="3874.7" font-size="66" text-anchor="end">0</text>
<rect x="461.4" y="2934.3" width="103.2" height="33.2" fill="#000"/>
<rect x="472.2" y="2943" width="81.7" height="14.2" fill="#fff"/>
<rect x="461.4" y="2999.1" width="103.2" height="33.3" fill="#000"/>
<rect x="472.2" y="3008.2" width="81.7" height="14.8" fill="#a2a2a2"/>
<rect x="461.4" y="3064.3" width="103.2" height="34.9" fill="#000"/>
<path d="M472.2 3073.7h11.5l13 14.7h-24.5zM504.7 3073.7h27l12.5 14.7h-27.5z" fill="#fff"/>
<text x="618.81" y="2972.6" font-size="66" letter-spacing="1.87">RPMI</text>
<text x="619.67" y="3037.9" font-size="66" letter-spacing="0.63">VCZ [0.125 µM]</text>
<text x="618.81" y="3104.3" font-size="66" letter-spacing="1.61">Pa10 supernatant</text>
<text x="1613.78" y="2972.4" font-size="66" letter-spacing="1.21">biofilm</text>
<text x="1520.58" y="3047.1" font-size="66" letter-spacing="1.56">formation</text>
<text x="1676.67" y="3120.4" font-size="66" letter-spacing="-0.78">10AF</text>
<path d="M734.2 3174H1225.6M734.2 3146V3203.5M1225.6 3146V3203.5" stroke="#000" stroke-width="9.6" fill="none"/>
<text x="959.2" y="3185.5" font-size="51" text-anchor="middle" letter-spacing="3">***</text>
<path d="M1240.6 3174H1748.8M1240.6 3146V3203.5M1748.8 3146V3203.5" stroke="#000" stroke-width="9.6" fill="none"/>
<text x="1480.5" y="3185.5" font-size="51" text-anchor="middle" letter-spacing="3">***</text>
<path d="M734.2 3341.8H1071.8M734.2 3313.8V3371.3M1071.8 3313.8V3371.3" stroke="#000" stroke-width="9.6" fill="none"/>
<text x="911.9" y="3349.1" font-size="51" text-anchor="middle" letter-spacing="3">***</text>
<path d="M1082.1 3341.8H1579.7M1082.1 3313.8V3371.3M1579.7 3313.8V3371.3" stroke="#000" stroke-width="9.6" fill="none"/>
<text x="1328.1" y="3349.1" font-size="51" text-anchor="middle" letter-spacing="3">***</text>
<path d="M734.2 3463.2H902.4M734.2 3435.2V3492.7M902.4 3435.2V3492.7" stroke="#000" stroke-width="9.6" fill="none"/>
<text x="825.4" y="3473.1" font-size="51" text-anchor="middle" letter-spacing="3">***</text>
<path d="M912.7 3463.2H1404.6M912.7 3435.2V3492.7M1404.6 3435.2V3492.7" stroke="#000" stroke-width="9.6" fill="none"/>
<text x="1144.5" y="3470.7" font-size="51" text-anchor="middle" letter-spacing="3">*</text>
<text x="190" y="3665.15" font-size="68" transform="rotate(-90 190 3665.15)" letter-spacing="0.28">10AF Metabolism</text>
<text x="271.5" y="3704.45" font-size="67" transform="rotate(-90 271.5 3704.45)" letter-spacing="-0.16">[% of control] +/- SD</text>
<text x="0" y="0" font-size="110.5" stroke="#000" stroke-width="2.5" stroke-linejoin="round" transform="translate(35 3004.7) scale(0.81 1)">C</text>
</g>
</svg></body></html>
